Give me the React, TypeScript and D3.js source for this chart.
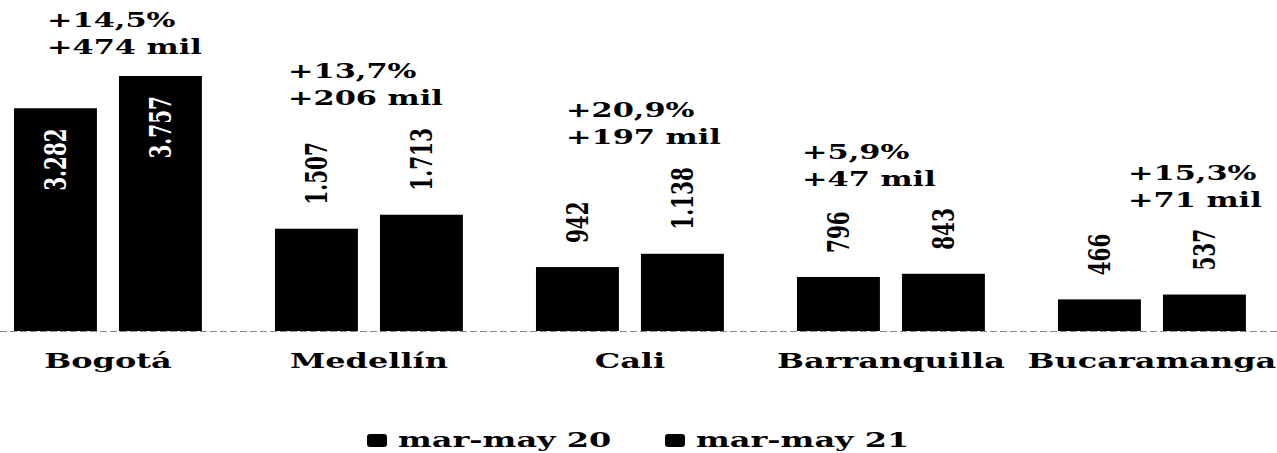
import React from 'react';
import * as d3 from 'd3';

const categories = ['Bogotá', 'Medellín', 'Cali', 'Barranquilla', 'Bucaramanga'];
const seriesNames = ['mar-may 20', 'mar-may 21'];
const values20 = [3282, 1507, 942, 796, 466];
const values21 = [3757, 1713, 1138, 843, 537];
const changePct = ['+14,5%', '+13,7%', '+20,9%', '+5,9%', '+15,3%'];
const changeAbs = ['+474 mil', '+206 mil', '+197 mil', '+47 mil', '+71 mil'];

// layout only: left offset of each change note from its group start
const noteDx = [33, 13, 30, 5, 70];

const width = 1277;
const height = 453;
const baseY = 331;
const topY = 76;
const SX = 1.45; // the picture is stretched sideways
const serif = "'DejaVu Serif', serif";

const fmt = d3.formatLocale({ decimal: ',', thousands: '.', grouping: [3], currency: ['', ''] }).format(',');

const labelSize = 20;
const labelLen = (s: string) =>
	s.split('').reduce((a, c) => a + (c === '.' ? 0.38 : 0.696), 0) * labelSize;

function App() {
	const series = [values20, values21];

	const x0 = d3
		.scaleBand<string>()
		.domain(categories)
		.range([0, width])
		.paddingInner(0.28)
		.paddingOuter(0.0864)
		.align(0.31);

	const x1 = d3
		.scaleBand<string>()
		.domain(seriesNames)
		.range([0, x0.bandwidth()])
		.paddingInner(0.21);

	const y = d3
		.scaleLinear()
		.domain([0, d3.max(values21) as number])
		.range([baseY, topY]);

	return (
		<svg
			width={width}
			height={height}
			style={{ position: 'absolute', left: 0, top: 0, background: '#fff' }}
		>
			<line x1={0} x2={width} y1={baseY + 0.5} y2={baseY + 0.5} stroke="#888" strokeDasharray="7 3" />
			{categories.map((cat, ci) => {
				const gx = x0(cat) as number;
				const bars = seriesNames.map((s, si) => {
					const v = series[si][ci];
					const bx = gx + (x1(s) as number);
					const top = y(v);
					const label = fmt(v);
					const inside = baseY - top > 150;
					const cx = bx + x1.bandwidth() / 2;
					const ly = inside ? top + 20 : top - 24;
					const lTop = inside ? top : top - 24 - labelLen(label);
					return { s, v, bx, top, label, inside, cx, ly, lTop };
				});
				const noteY = Math.min(...bars.map((b) => b.lTop)) - 22;
				return (
					<g key={cat}>
						{bars.map((b) => (
							<g key={b.s}>
								<rect x={b.bx} y={b.top} width={x1.bandwidth()} height={baseY - b.top} fill="#000" />
								<text
									transform={`translate(${b.cx},${b.ly}) scale(${SX},1) rotate(-90)`}
									dy="0.36em"
									textAnchor={b.inside ? 'end' : 'start'}
									fontFamily={serif}
									fontWeight="bold"
									fontSize={labelSize}
									fill={b.inside ? '#fff' : '#000'}
								>
									{b.label}
								</text>
							</g>
						))}
						<g transform={`translate(${gx + noteDx[ci]},0)`} fontFamily={serif} fontWeight="bold" fontSize={21}>
							<text transform={`translate(0,${noteY - 27}) scale(${SX},1)`}>{changePct[ci]}</text>
							<text transform={`translate(0,${noteY}) scale(${SX},1)`}>{changeAbs[ci]}</text>
						</g>
						<text
							transform={`translate(${gx + x0.bandwidth() / 2},368) scale(${SX * 1.05},1)`}
							textAnchor="middle"
							fontFamily={serif}
							fontWeight="bold"
							fontSize={21}
						>
							{cat}
						</text>
					</g>
				);
			})}
			{seriesNames.map((s, i) => (
				<g key={s} transform={`translate(${367 + i * 298},0)`}>
					<rect x={0} y={434} width={20} height={13} rx={3} fill="#000" />
					<text
						transform={`translate(31,447) scale(${SX * 1.05},1)`}
						fontFamily={serif}
						fontWeight="bold"
						fontSize={21}
					>
						{s}
					</text>
				</g>
			))}
		</svg>
	);
}

export default App;
